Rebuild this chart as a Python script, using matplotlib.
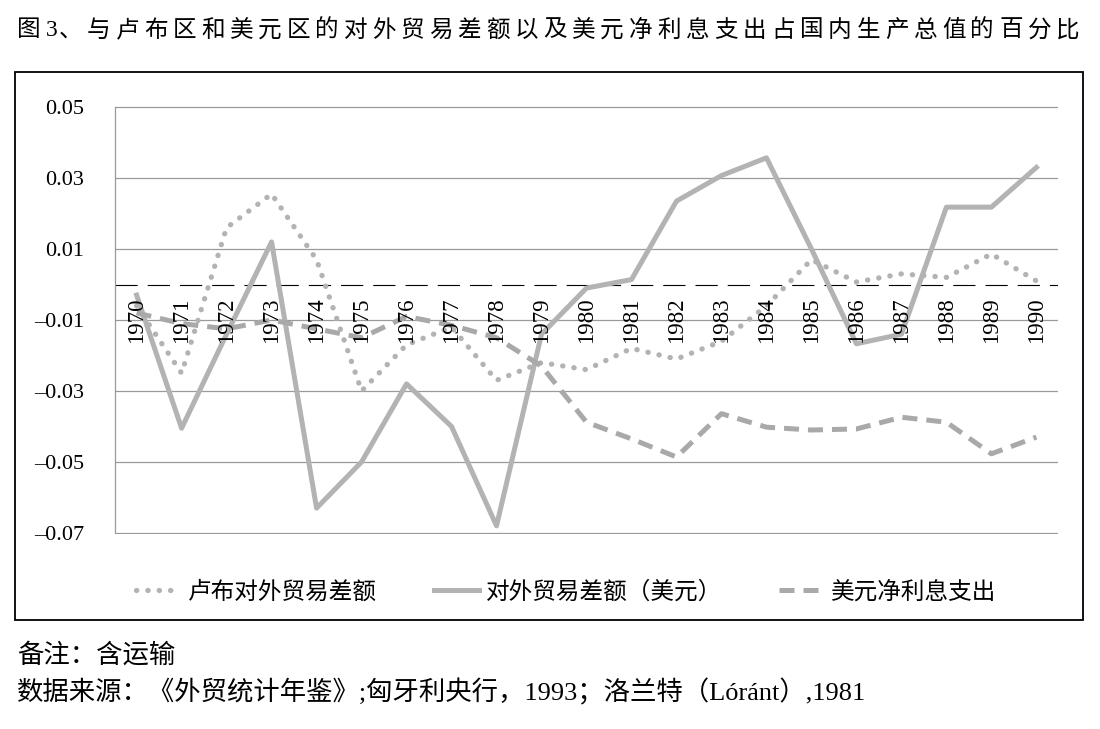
import matplotlib
matplotlib.use("Agg")
import matplotlib.pyplot as plt
from matplotlib.lines import Line2D
from matplotlib.patches import Rectangle

plt.rcParams["font.family"] = ["Liberation Serif", "Noto Sans CJK SC"]

# ---------------------------------------------------------------------------
# data (share of GDP)
# ---------------------------------------------------------------------------
years = list(range(1970, 1991))
rouble_trade = [-0.006, -0.025, 0.016, 0.0255, 0.007, -0.030, -0.017, -0.012,
                -0.027, -0.022, -0.024, -0.018, -0.021, -0.016, -0.006, 0.007,
                0.0007, 0.003, 0.002, 0.0086, 0.001]
dollar_trade = [-0.003, -0.0405, -0.014, 0.012, -0.063, -0.050, -0.028, -0.040,
                -0.068, -0.014, -0.001, 0.0014, 0.0235, 0.0307, 0.0357, 0.010,
                -0.0167, -0.014, 0.0218, 0.0218, 0.033]
dollar_interest = [-0.008, -0.011, -0.0125, -0.010, -0.0125, -0.015, -0.009,
                   -0.0115, -0.015, -0.023, -0.0388, -0.0435, -0.0486, -0.0364,
                   -0.0402, -0.041, -0.0407, -0.0374, -0.0388, -0.0477, -0.043]
yticks = [0.05, 0.03, 0.01, -0.01, -0.03, -0.05, -0.07]
ytick_labels = ["0.05", "0.03", "0.01", "\u20130.01", "\u20130.03", "\u20130.05", "\u20130.07"]
series_names = ["卢布对外贸易差额", "对外贸易差额（美元）", "美元净利息支出"]

title = "图3、与卢布区和美元区的对外贸易差额以及美元净利息支出占国内生产总值的百分比"
note = "备注：含运输"
source = "数据来源：《外贸统计年鉴》;匈牙利央行，1993；洛兰特（Lóránt）,1981"

W, H = 1100, 729
fig = plt.figure(figsize=(W / 100, H / 100), dpi=100)
ax = fig.add_axes([115 / W, 1 - 534 / H, (1058 - 115) / W, (534 - 106) / H])

x = list(range(len(years)))
grey = "#b3b3b3"
dot_style = (0, (0.05, 2.1))
dash_style = (0, (3.0, 1.8))
ax.plot(x, rouble_trade, color=grey, lw=3.8, linestyle=dot_style,
        dash_capstyle="round")
ax.plot(x, dollar_trade, color=grey, lw=3.6)
ax.plot(x, dollar_interest, color="#a9a9a9", lw=3.6, linestyle=dash_style)

ax.axhline(0, color="black", lw=0.8, dashes=(20, 9), zorder=1)
ax.set_xlim(-0.48, len(years) - 0.52)
ax.set_ylim(-0.0703, 0.0503)
ax.set_yticks(yticks)
ax.set_yticklabels(ytick_labels, fontsize=16, family="Liberation Serif")
ax.set_xticks([])
ax.tick_params(axis="y", length=0, pad=22)
ax.grid(axis="y", color="#9a9a9a", lw=0.9, zorder=0)
for s in ["top", "right", "bottom"]:
    ax.spines[s].set_visible(False)
ax.spines["left"].set_color("#9a9a9a")
ax.spines["left"].set_linewidth(0.9)
ax.spines["left"].set_bounds(-0.07, 0.05)

for i, yr in enumerate(years):
    ax.text(i, -0.0037, str(yr), rotation=90, ha="center", va="top",
            fontsize=16.5, family="Liberation Serif", zorder=5)

# outer frame
fig.patches.append(Rectangle((15 / W, 1 - 620 / H), (1083 - 15) / W, (620 - 72) / H,
                             transform=fig.transFigure, fill=False,
                             edgecolor="black", lw=1.3))

# legend
handles = [
    Line2D([], [], color=grey, lw=3.8, linestyle=dot_style, dash_capstyle="round"),
    Line2D([], [], color=grey, lw=3.6),
    Line2D([], [], color="#a9a9a9", lw=3.6, linestyle=dash_style),
]
fig.legend(handles, series_names, loc="center", bbox_to_anchor=(566 / W, 1 - 592 / H),
           ncol=3, frameon=False, handlelength=1.9, handletextpad=0.3,
           columnspacing=2.4, prop={"family": ["Noto Sans CJK SC"], "size": 17})

# title with wide character spacing
xpos = 17
for ch in title:
    fig.text(xpos / W, 1 - 31 / H, ch, ha="left", va="center", fontsize=17,
             family=["Liberation Serif", "Noto Sans CJK SC"])
    xpos += 13 if ch == "3" else 28.5

fig.text(17 / W, 1 - 655 / H, note, ha="left", va="center", fontsize=19)
fig.text(17 / W, 1 - 692 / H, source, ha="left", va="center", fontsize=19)

fig.savefig("out.png", dpi=100)
